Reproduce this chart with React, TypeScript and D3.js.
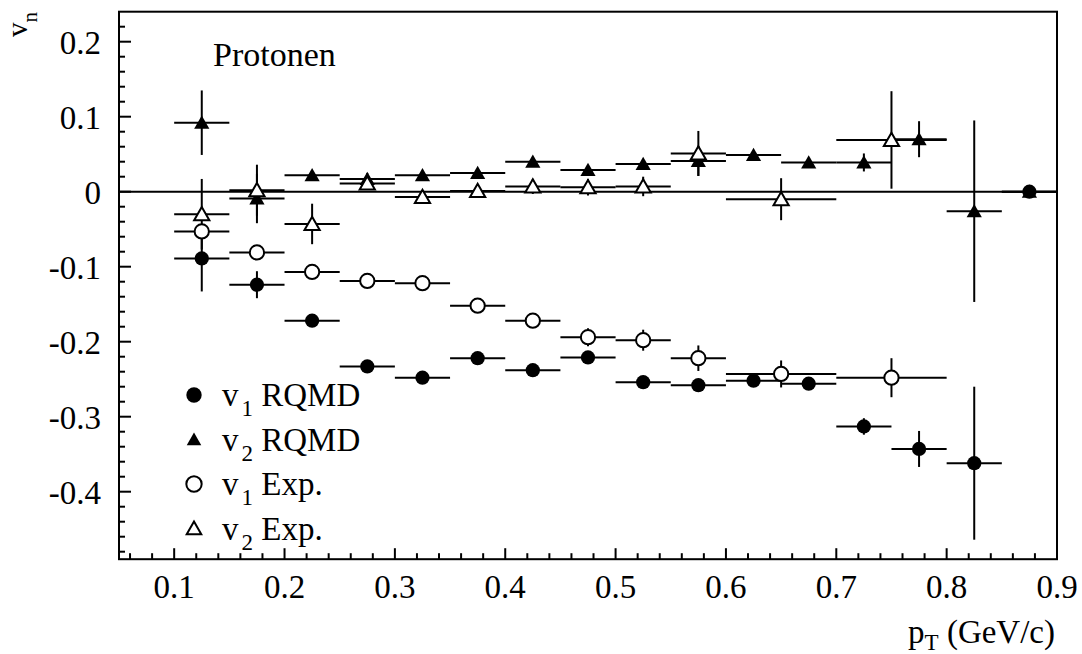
import React from "react";
import * as d3 from "d3";

// ---- data ----
const v1RqmdPt = [0.125, 0.175, 0.225, 0.275, 0.325, 0.375, 0.425, 0.475, 0.525, 0.575, 0.625, 0.675, 0.725, 0.775, 0.825, 0.875];
const v1RqmdVal = [-0.089, -0.124, -0.172, -0.233, -0.248, -0.222, -0.238, -0.221, -0.254, -0.258, -0.252, -0.256, -0.313, -0.343, -0.362, 0.0];
const v1RqmdErr = [0.044, 0.018, 0.006, 0.005, 0.004, 0.004, 0.005, 0.006, 0.005, 0.006, 0.008, 0.005, 0.011, 0.024, 0.102, 0.0];
const v1RqmdBin = [0.025, 0.025, 0.025, 0.025, 0.025, 0.025, 0.025, 0.025, 0.025, 0.025, 0.025, 0.025, 0.025, 0.025, 0.025, 0.025];

const v2RqmdPt = [0.125, 0.175, 0.225, 0.275, 0.325, 0.375, 0.425, 0.475, 0.525, 0.575, 0.625, 0.675, 0.725, 0.775, 0.825, 0.875];
const v2RqmdVal = [0.092, -0.009, 0.022, 0.017, 0.022, 0.025, 0.040, 0.029, 0.037, 0.041, 0.049, 0.039, 0.039, 0.070, -0.026, 0.0];
const v2RqmdErr = [0.043, 0.033, 0.006, 0.008, 0.004, 0.004, 0.004, 0.004, 0.005, 0.020, 0.004, 0.003, 0.012, 0.024, 0.121, 0.0];
const v2RqmdBin = [0.025, 0.025, 0.025, 0.025, 0.025, 0.025, 0.025, 0.025, 0.025, 0.025, 0.025, 0.025, 0.025, 0.025, 0.025, 0.025];

const v1ExpPt = [0.125, 0.175, 0.225, 0.275, 0.325, 0.375, 0.425, 0.475, 0.525, 0.575, 0.65, 0.75];
const v1ExpVal = [-0.053, -0.081, -0.107, -0.119, -0.122, -0.152, -0.172, -0.194, -0.198, -0.222, -0.243, -0.248];
const v1ExpErr = [0.010, 0.005, 0.005, 0.005, 0.005, 0.005, 0.006, 0.012, 0.014, 0.017, 0.018, 0.026];
const v1ExpBin = [0.025, 0.025, 0.025, 0.025, 0.025, 0.025, 0.025, 0.025, 0.025, 0.025, 0.05, 0.05];

const v2ExpPt = [0.125, 0.175, 0.225, 0.275, 0.325, 0.375, 0.425, 0.475, 0.525, 0.575, 0.65, 0.75];
const v2ExpVal = [-0.030, 0.002, -0.043, 0.011, -0.007, 0.001, 0.007, 0.006, 0.007, 0.051, -0.010, 0.069];
const v2ExpErr = [0.047, 0.034, 0.027, 0.008, 0.007, 0.006, 0.010, 0.011, 0.013, 0.030, 0.028, 0.065];
const v2ExpBin = [0.025, 0.025, 0.025, 0.025, 0.025, 0.025, 0.025, 0.025, 0.025, 0.025, 0.05, 0.05];

const xTickLabels = ["0.1", "0.2", "0.3", "0.4", "0.5", "0.6", "0.7", "0.8", "0.9"];
const yTickLabels = ["0.2", "0.1", "0", "-0.1", "-0.2", "-0.3", "-0.4"];

type Kind = "circle" | "triangle";
interface Series {
  label: string;
  sub: string;
  kind: Kind;
  filled: boolean;
  pt: number[];
  val: number[];
  err: number[];
  bin: number[];
}

const series: Series[] = [
  { label: " RQMD", sub: "1", kind: "circle", filled: true, pt: v1RqmdPt, val: v1RqmdVal, err: v1RqmdErr, bin: v1RqmdBin },
  { label: " RQMD", sub: "2", kind: "triangle", filled: true, pt: v2RqmdPt, val: v2RqmdVal, err: v2RqmdErr, bin: v2RqmdBin },
  { label: " Exp.", sub: "1", kind: "circle", filled: false, pt: v1ExpPt, val: v1ExpVal, err: v1ExpErr, bin: v1ExpBin },
  { label: " Exp.", sub: "2", kind: "triangle", filled: false, pt: v2ExpPt, val: v2ExpVal, err: v2ExpErr, bin: v2ExpBin },
];

const W = 1082;
const H = 654;
const FS = 33;
const SUB = 23;
const FONT = "Liberation Serif, Times New Roman, DejaVu Serif, serif";
const TXT: React.CSSProperties = { fontFamily: FONT };

const triType = {
  draw(ctx: any, size: number) {
    const w = Math.sqrt(size) * 1.15;
    const h = w * 0.87;
    ctx.moveTo(0, -h * 0.55);
    ctx.lineTo(w / 2, h * 0.45);
    ctx.lineTo(-w / 2, h * 0.45);
    ctx.closePath();
  },
};

function markerPath(kind: Kind, big = false) {
  if (kind === "circle") return d3.symbol(d3.symbolCircle, big ? 185 : 160)()!;
  return d3.symbol(triType as any, big ? 160 : 175)()!;
}

export default function App() {
  const x = d3.scaleLinear().domain([0.05, 0.9]).range([119, 1057]);
  const y = d3.scaleLinear().domain([-0.49, 0.24]).range([559.2, 11.7]);
  const [x0, x1] = x.range();
  const [yb, yt] = y.range();

  const xMinor = d3.range(0.06, 0.9001, 0.02).map((v) => +v.toFixed(2));
  const yMinor = d3.range(-0.48, 0.2201, 0.02).map((v) => +v.toFixed(2));
  const isMajor = (v: number) => Math.abs(v * 10 - Math.round(v * 10)) < 1e-6;

  return (
    <svg
      width={W}
      height={H}
      viewBox={`0 0 ${W} ${H}`}
      style={{ position: "absolute", left: 0, top: 0, background: "#fff", fontFamily: FONT }}
    >
      <rect x={0} y={0} width={W} height={H} fill="#fff" />

      {/* zero line */}
      <line x1={x0} x2={x1} y1={y(0)} y2={y(0)} stroke="#000" strokeWidth={2} />

      {/* error bars */}
      {series.map((s, si) => (
        <g key={"e" + si} stroke="#000" strokeWidth={2}>
          {s.pt.map((p, i) => (
            <g key={i}>
              <line x1={x(p - s.bin[i])} x2={x(p + s.bin[i])} y1={y(s.val[i])} y2={y(s.val[i])} />
              {s.err[i] > 0 && (
                <line x1={x(p)} x2={x(p)} y1={y(s.val[i] - s.err[i])} y2={y(s.val[i] + s.err[i])} />
              )}
            </g>
          ))}
        </g>
      ))}

      {/* markers */}
      {series.map((s, si) => (
        <g key={"m" + si}>
          {s.pt.map((p, i) => (
            <path
              key={i}
              d={markerPath(s.kind)}
              transform={`translate(${x(p)},${y(s.val[i])})`}
              fill={s.filled ? "#000" : "#fff"}
              stroke="#000"
              strokeWidth={s.filled ? 0 : 2}
            />
          ))}
        </g>
      ))}

      {/* frame */}
      <rect x={x0} y={yt} width={x1 - x0} height={yb - yt} fill="none" stroke="#000" strokeWidth={2} />

      {/* x ticks */}
      {xMinor.map((v) => (
        <line key={"xt" + v} x1={x(v)} x2={x(v)} y1={yb} y2={yb - (isMajor(v) ? 11 : 6)} stroke="#000" strokeWidth={2} />
      ))}
      {xTickLabels.map((t) => (
        <text key={"xl" + t} style={TXT} x={x(+t)} y={598} textAnchor="middle" fontSize={FS} fill="#000">
          {t}
        </text>
      ))}

      {/* y ticks */}
      {yMinor.map((v) => (
        <line key={"yt" + v} x1={x0} x2={x0 + (isMajor(v) ? 12 : 6)} y1={y(v)} y2={y(v)} stroke="#000" strokeWidth={2} />
      ))}
      {yTickLabels.map((t) => (
        <text key={"yl" + t} style={TXT} x={101} y={y(+t)} dy="0.36em" textAnchor="end" fontSize={FS} fill="#000">
          {t}
        </text>
      ))}

      {/* axis titles */}
      <text style={TXT} transform="translate(27,12) rotate(-90)" textAnchor="end" fontSize={29} fill="#000">
        v<tspan dy={10} fontSize={21}>n</tspan>
      </text>
      <text style={TXT} x={1055} y={643} textAnchor="end" fontSize={FS} fill="#000">
        p<tspan dy={7} fontSize={SUB}>T</tspan>
        <tspan dy={-7}> (GeV/c)</tspan>
      </text>

      <text style={TXT} x={213} y={66} fontSize={FS + 1} fill="#000">
        Protonen
      </text>

      {/* legend */}
      {series.map((s, si) => {
        const ly = 395 + si * 44.5;
        return (
          <g key={"lg" + si}>
            <path
              d={markerPath(s.kind, true)}
              transform={`translate(194,${ly})`}
              fill={s.filled ? "#000" : "#fff"}
              stroke="#000"
              strokeWidth={s.filled ? 0 : 2}
            />
            <text style={TXT} x={222} y={ly + 11} fontSize={FS} fill="#000">
              v<tspan dx={3} dy={10} fontSize={SUB}>{s.sub}</tspan>
              <tspan dy={-10}>{s.label}</tspan>
            </text>
          </g>
        );
      })}
    </svg>
  );
}
